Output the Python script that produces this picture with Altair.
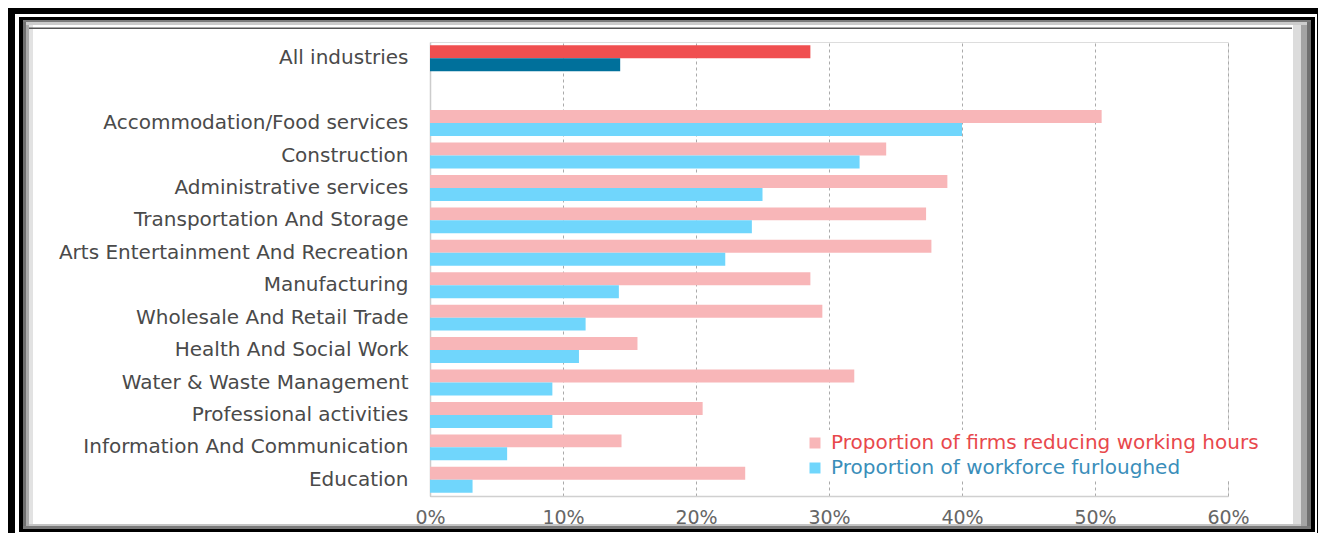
import altair as alt
import pandas as pd

industries = [
    "All industries",
    "Accommodation/Food services",
    "Construction",
    "Administrative services",
    "Transportation And Storage",
    "Arts Entertainment And Recreation",
    "Manufacturing",
    "Wholesale And Retail Trade",
    "Health And Social Work",
    "Water & Waste Management",
    "Professional activities",
    "Information And Communication",
    "Education",
]
reduce_hours = [28.6, 50.5, 34.3, 38.9, 37.3, 37.7, 28.6, 29.5, 15.6, 31.9, 20.5, 14.4, 23.7]
furloughed = [14.3, 40.0, 32.3, 25.0, 24.2, 22.2, 14.2, 11.7, 11.2, 9.2, 9.2, 5.8, 3.2]
series_names = [
    "Proportion of firms reducing working hours",
    "Proportion of workforce furloughed",
]
x_ticks = [0, 10, 20, 30, 40, 50, 60]

rows = []
for ind, r, f in zip(industries, reduce_hours, furloughed):
    for s, v in zip(series_names, [r, f]):
        key = ("All industries: " + s) if ind == "All industries" else s
        rows.append({"industry": ind, "series": s, "value": v, "key": key})
df = pd.DataFrame(rows)

y_domain = [industries[0], " "] + industries[1:]
color_domain = series_names + ["All industries: " + s for s in series_names]
color_range = ["#F8B6B8", "#70D6FC", "#F04F50", "#00709B"]

FONT = "DejaVu Sans"
OX, OY = 430, 42  # page position of the plot origin


def band(x1, x2, y1, y2, color):
    return alt.Chart(alt.Data(values=[{}])).mark_rect(color=color).encode(
        x=alt.value(x1 - OX), x2=alt.value(x2 - OX),
        y=alt.value(y1 - OY), y2=alt.value(y2 - OY),
    )


frame = [
    # outer black frame
    band(0, 1326, 4, 14, "#000000"),
    band(4, 15, 4, 541, "#000000"),
    band(1317, 1326, 4, 541, "#000000"),
    # light shading inside the inner frame
    band(29, 33, 20, 529, "#e2e2e2"),
    band(1293, 1301, 20, 529, "#dcdcdc"),
    band(23, 1311, 524, 529, "#c4c4c4"),
    band(26, 29, 20, 529, "#ababab"),
    band(1301, 1307, 20, 529, "#a4a4a4"),
    band(23, 1311, 22, 25, "#cccccc"),
    band(23, 26, 20, 529, "#707070"),
    band(1307, 1311, 20, 529, "#707070"),
    band(23, 1311, 20, 22, "#7a7a7a"),
    band(23, 1311, 526, 529, "#7a7a7a"),
    # inner black frame
    band(19, 1315, 17, 20, "#000000"),
    band(19, 23, 17, 532, "#000000"),
    band(1311, 1315, 17, 532, "#000000"),
    band(19, 1315, 529, 532, "#000000"),
    # top rule
    band(29, 1292, 27.5, 29, "#555555"),
]

bars = alt.Chart(df).mark_bar().encode(
    x=alt.X(
        "value:Q",
        scale=alt.Scale(domain=[0, 60], nice=False),
        axis=alt.Axis(
            values=x_ticks, labelExpr="datum.value + '%'", title=None,
            grid=True, gridDash=[3, 3], gridColor="#aaaaaa", gridWidth=1,
            domainColor="#d0d0d0", domainWidth=1.5, ticks=False,
            labelFlush=False, labelPadding=12, labelFontSize=19,
            labelColor="#666666", labelFont=FONT,
        ),
    ),
    y=alt.Y(
        "industry:N",
        scale=alt.Scale(domain=y_domain, paddingInner=0.2, paddingOuter=0.1),
        axis=alt.Axis(
            title=None, ticks=False, domainColor="#cccccc", domainWidth=1.5,
            labelPadding=22, labelFontSize=20, labelLimit=500,
            labelColor="#4a4a4a", labelFont=FONT, grid=False,
        ),
    ),
    yOffset=alt.YOffset("series:N", scale=alt.Scale(domain=series_names)),
    color=alt.Color(
        "key:N",
        scale=alt.Scale(domain=color_domain, range=color_range),
        legend=alt.Legend(
            values=series_names, title=None, orient="none",
            legendX=372, legendY=388, padding=3, fillColor="#ffffff",
            symbolType="square", symbolSize=121, symbolStrokeWidth=0,
            labelFontSize=20, labelFont=FONT, labelOffset=6, rowPadding=5,
            labelLimit=700,
            labelColor={"expr": "indexof(datum.label, 'firms') >= 0 ? '#E8484C' : '#3A8EBA'"},
        ),
    ),
)

chart = alt.layer(*frame, bars).properties(
    width=798,
    height=454,
    autosize=alt.AutoSizeParams(type="none"),
    padding={"left": 422, "top": 34, "right": 90, "bottom": 37},
    background="white",
).configure_view(strokeWidth=0).configure(font=FONT)

chart.save("out.html", embed_options={"renderer": "svg", "actions": False})
